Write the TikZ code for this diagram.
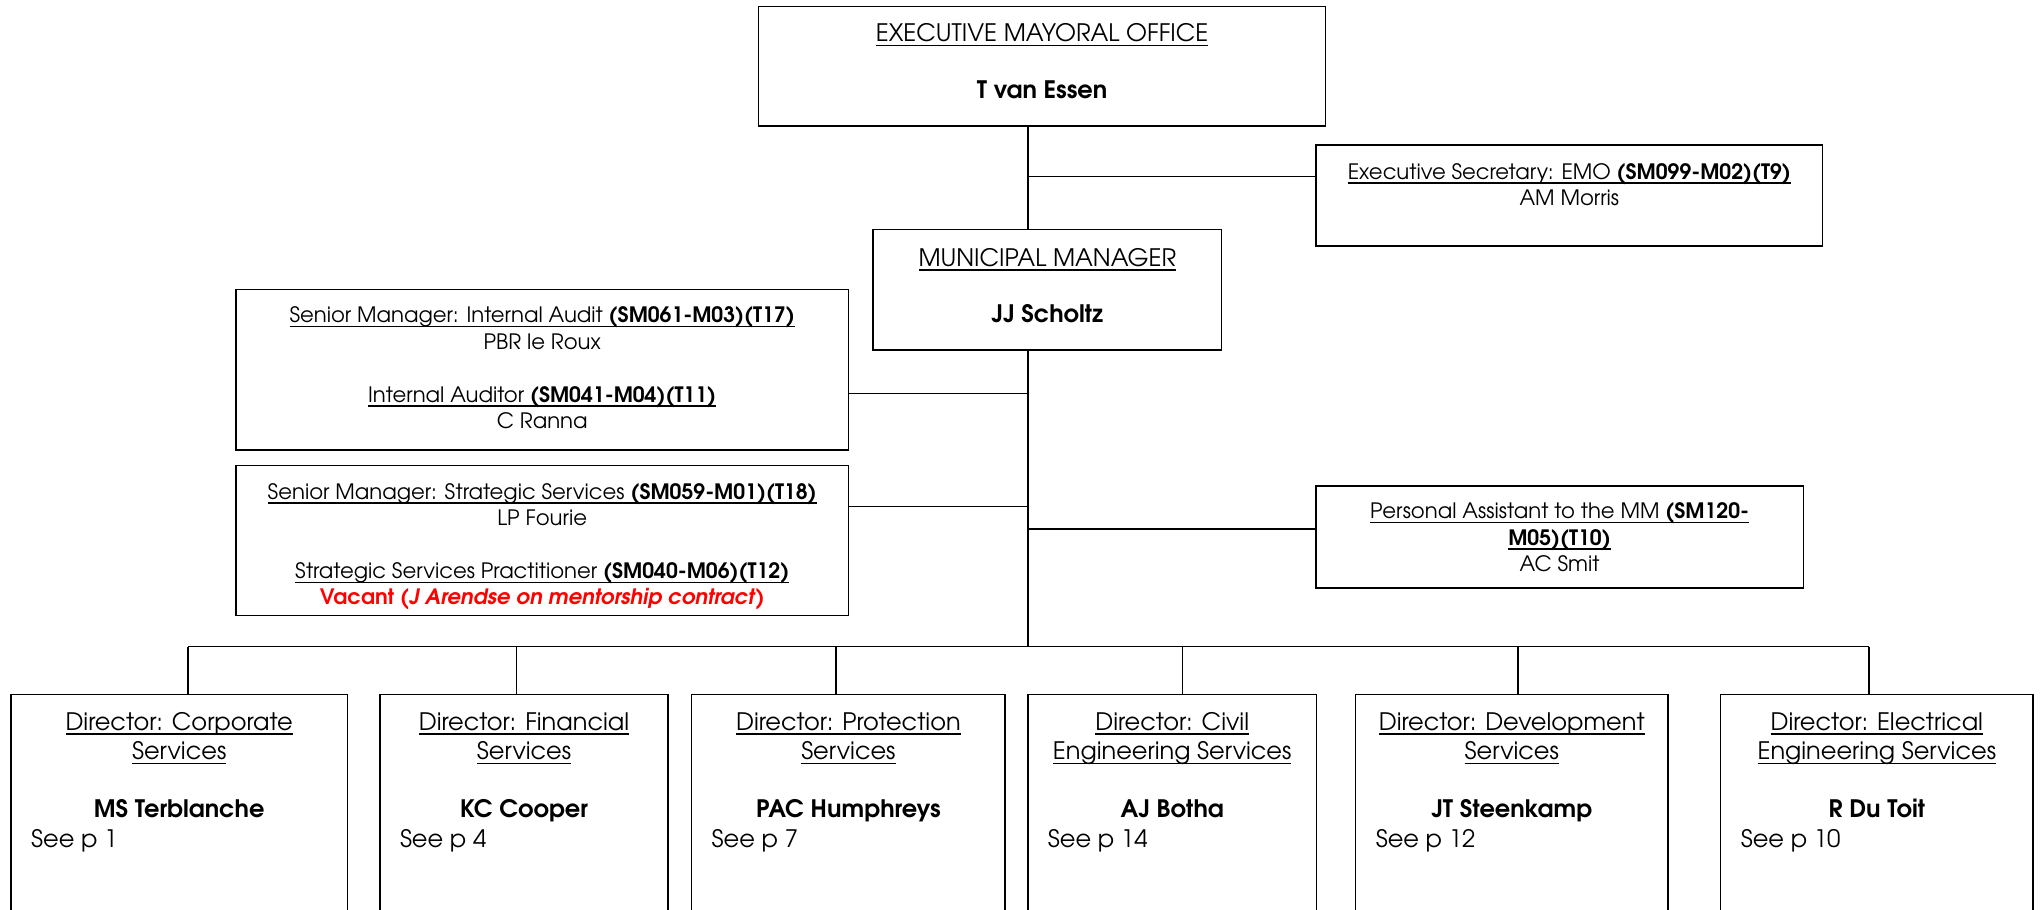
\documentclass[tikz,border=0pt]{standalone}
\usepackage{fontspec}
\setmainfont{TeX Gyre Adventor}
\newcommand{\smfont}{\fontsize{16.3}{20.3}\selectfont}
\newcommand{\bgfont}{\fontsize{18.5}{22.5}\selectfont}
\newsavebox{\myulbox}
\newcommand{\myul}[1]{\sbox{\myulbox}{#1}\rlap{\rule[-3.4pt]{\wd\myulbox}{1pt}}\usebox{\myulbox}}
\begin{document}
\begin{tikzpicture}[x=1pt,y=-1pt,
  box/.style={draw=black, line width=1.1pt, inner sep=0pt, rectangle},
  conn/.style={draw=black, line width=1.1pt},
  smtext/.style={anchor=north, align=center, inner sep=0pt, font=\smfont},
  bgtext/.style={anchor=north, align=center, inner sep=0pt, font=\bgfont},
  seetext/.style={anchor=base west, inner sep=0pt, font=\bgfont}]
\fill[white] (0,0) rectangle (1568,698.7);
\useasboundingbox (0,0) rectangle (1568,698.7);

% boxes
\node[box, minimum width=436pt, minimum height=92pt] (emo) at (801,51) {};
\node[box, minimum width=389.5pt, minimum height=77.5pt] (exec) at (1206.25,150.25) {};
\node[box, minimum width=268pt, minimum height=92.5pt] (mm) at (805,222.75) {};
\node[box, minimum width=470.5pt, minimum height=123.5pt] (ia) at (416.75,284.25) {};
\node[box, minimum width=470.5pt, minimum height=115pt] (st) at (416.75,415.5) {};
\node[box, minimum width=374.5pt, minimum height=78.5pt] (pa) at (1198.75,412.75) {};
\node[box, minimum width=258.5pt, minimum height=186.3pt] (d1) at (137.75,626.85) {};
\node[box, minimum width=221.6pt, minimum height=186.3pt] (d2) at (402.8,626.85) {};
\node[box, minimum width=241pt, minimum height=186.3pt] (d3) at (652.1,626.85) {};
\node[box, minimum width=222pt, minimum height=186.3pt] (d4) at (901,626.85) {};
\node[box, minimum width=240pt, minimum height=186.3pt] (d5) at (1162,626.85) {};
\node[box, minimum width=240pt, minimum height=186.3pt] (d6) at (1442.6,626.85) {};

% junctions
\coordinate (j1) at (790,135.8);
\coordinate (j2) at (790,302.3);
\coordinate (j3) at (790,389.5);
\coordinate (j4) at (790,406.5);
\coordinate (bus) at (790,497);
\coordinate (b1) at (144.5,497);
\coordinate (b2) at (397,497);
\coordinate (b3) at (642.6,497);
\coordinate (b4) at (909,497);
\coordinate (b5) at (1166.6,497);
\coordinate (b6) at (1436.7,497);

% connectors
\draw[conn] (emo.south -| bus) -- (mm.north -| bus);
\draw[conn] (mm.south -| bus) -- (bus);
\draw[conn] (j1) -- (j1 -| exec.west);
\draw[conn] (j2) -- (j2 -| ia.east);
\draw[conn] (j3) -- (j3 -| st.east);
\draw[conn] (j4) -- (j4 -| pa.west);
\draw[conn] (b1) -- (b6);
\draw[conn] (b1) -- (b1 |- d1.north);
\draw[conn] (b2) -- (b2 |- d2.north);
\draw[conn] (b3) -- (b3 |- d3.north);
\draw[conn] (b4) -- (b4 |- d4.north);
\draw[conn] (b5) -- (b5 |- d5.north);
\draw[conn] (b6) -- (b6 |- d6.north);

% texts
\node[bgtext] (emot) at (801,16.25) {\strut\myul{EXECUTIVE MAYORAL OFFICE}\\[21.1pt]\textbf{T van Essen}};
\node[smtext] (exect) at (1206.25,123.3) {\strut\myul{Executive Secretary: EMO \textbf{(SM099-M02)(T9)}}\\AM Morris};
\node[bgtext] (mmt) at (805,188.75) {\strut\myul{MUNICIPAL MANAGER}\\[21pt]\textbf{JJ Scholtz}};
\node[smtext] (iat) at (416.75,233.8) {\strut\myul{Senior Manager: Internal Audit \textbf{(SM061-M03)(T17)}}\\PBR le Roux\\[20.3pt]\myul{Internal Auditor \textbf{(SM041-M04)(T11)}}\\C Ranna};
\node[smtext] (stt) at (416.75,369.3) {\strut\myul{Senior Manager: Strategic Services \textbf{(SM059-M01)(T18)}}\\LP Fourie\\[20.3pt]\myul{Strategic Services Practitioner \textbf{(SM040-M06)(T12)}}\\\textcolor{red}{\textbf{Vacant (\textit{J Arendse on mentorship contract})}}};
\node[smtext] (pat) at (1198.75,384.3) {\strut\myul{Personal Assistant to the MM \textbf{(SM120-}}\\\myul{\textbf{M05)(T10)}}\\AC Smit};

\node[bgtext] (d1t) at (137.75,545.25) {\strut\myul{Director: Corporate}\\\myul{Services}\\[22pt]\textbf{MS Terblanche}};
\node[bgtext] (d2t) at (402.8,545.25) {\strut\myul{Director: Financial}\\\myul{Services}\\[22pt]\textbf{KC Cooper}};
\node[bgtext] (d3t) at (652.1,545.25) {\strut\myul{Director: Protection}\\\myul{Services}\\[22pt]\textbf{PAC Humphreys}};
\node[bgtext] (d4t) at (901,545.25) {\strut\myul{Director: Civil}\\\myul{Engineering Services}\\[22pt]\textbf{AJ Botha}};
\node[bgtext] (d5t) at (1162,545.25) {\strut\myul{Director: Development}\\\myul{Services}\\[22pt]\textbf{JT Steenkamp}};
\node[bgtext] (d6t) at (1442.6,545.25) {\strut\myul{Director: Electrical}\\\myul{Engineering Services}\\[22pt]\textbf{R Du Toit}};

\node[seetext] (d1s) at ([xshift=15.8pt]d1.west |- 0,651.5) {See p 1};
\node[seetext] (d2s) at ([xshift=15.8pt]d2.west |- 0,651.5) {See p 4};
\node[seetext] (d3s) at ([xshift=15.8pt]d3.west |- 0,651.5) {See p 7};
\node[seetext] (d4s) at ([xshift=15.8pt]d4.west |- 0,651.5) {See p 14};
\node[seetext] (d5s) at ([xshift=15.8pt]d5.west |- 0,651.5) {See p 12};
\node[seetext] (d6s) at ([xshift=15.8pt]d6.west |- 0,651.5) {See p 10};
\end{tikzpicture}
\end{document}
